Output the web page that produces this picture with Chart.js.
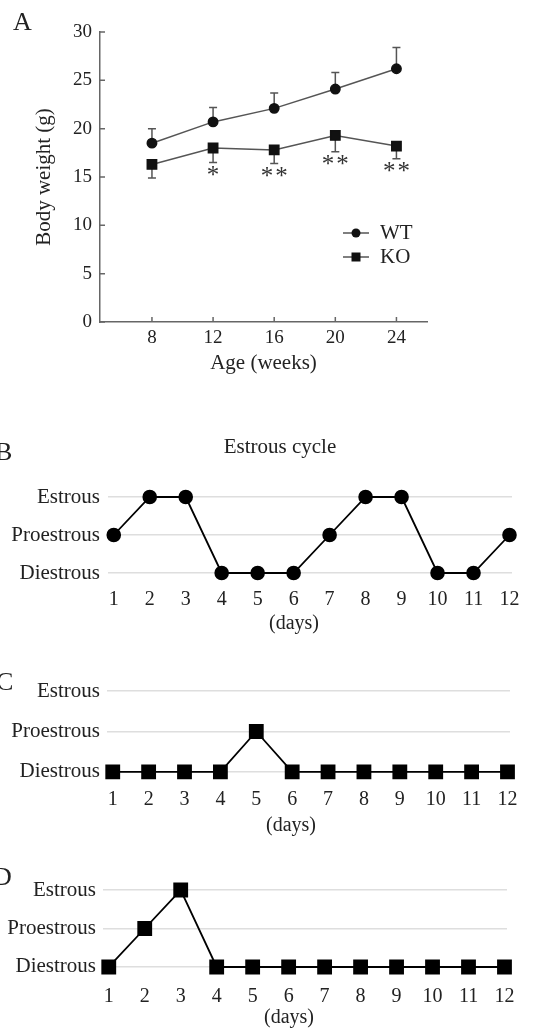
<!DOCTYPE html>
<html>
<head>
<meta charset="utf-8">
<script src="https://cdn.jsdelivr.net/npm/chart.js@4.4.0/dist/chart.umd.min.js"></script>
<style>
  body { margin: 0; background: #fff; width: 536px; height: 1028px; overflow: hidden; position: relative; }
  .panel { position: absolute; left: 0; width: 536px; }
  canvas { display: block; }
</style>
</head>
<body>
<div class="panel" style="top:0;height:390px"><canvas id="chartA" width="536" height="390"></canvas></div>
<div class="panel" style="top:420px;height:215px"><canvas id="chartB" width="536" height="215"></canvas></div>
<div class="panel" style="top:640px;height:200px"><canvas id="chartC" width="536" height="200"></canvas></div>
<div class="panel" style="top:840px;height:188px"><canvas id="chartD" width="536" height="188"></canvas></div>
<script>
// panel A: body weight
var weeks = [8, 12, 16, 20, 24];
var wtWeight = [18.5, 20.7, 22.1, 24.1, 26.2];
var wtErr = [1.5, 1.5, 1.6, 1.7, 2.2];
var koWeight = [16.3, 18.0, 17.8, 19.3, 18.2];
var koErr = [1.4, 1.5, 1.4, 1.7, 1.3];
var signif = ['', '*', '**', '**', '**'];
var weightTicks = [0, 5, 10, 15, 20, 25, 30];

// panels B-D: estrous cycle (0 = Diestrous, 1 = Proestrous, 2 = Estrous)
var stageLabels = ['Diestrous', 'Proestrous', 'Estrous'];
var days = [1, 2, 3, 4, 5, 6, 7, 8, 9, 10, 11, 12];
var cycleB = [1, 2, 2, 0, 0, 0, 1, 2, 2, 0, 0, 1];
var cycleC = [0, 0, 0, 0, 1, 0, 0, 0, 0, 0, 0, 0];
var cycleD = [0, 1, 2, 0, 0, 0, 0, 0, 0, 0, 0, 0];

var serif = "'Liberation Serif', 'Times New Roman', serif";
Chart.defaults.font.family = serif;
Chart.defaults.color = '#222';

// free text: panel letters, titles
var extraText = {
  id: 'extraText',
  afterDraw: function (chart, args, opts) {
    var ctx = chart.ctx;
    (opts.items || []).forEach(function (t) {
      ctx.save();
      ctx.font = t.size + 'px ' + serif;
      ctx.fillStyle = t.color || '#222';
      ctx.textAlign = t.align || 'center';
      ctx.textBaseline = 'middle';
      ctx.fillText(t.text, t.x, t.y);
      ctx.restore();
    });
  }
};

// one-sided error bars (WT up, KO down)
var errorBars = {
  id: 'errorBars',
  beforeDatasetsDraw: function (chart) {
    var ctx = chart.ctx, xs = chart.scales.x, ys = chart.scales.y;
    chart.data.datasets.forEach(function (ds) {
      ctx.save();
      ctx.strokeStyle = '#555';
      ctx.lineWidth = 1.5;
      ds.data.forEach(function (p, i) {
        var px = xs.getPixelForValue(p.x);
        var y0 = ys.getPixelForValue(p.y);
        var y1 = ys.getPixelForValue(p.y + ds.errDir * ds.err[i]);
        ctx.beginPath();
        ctx.moveTo(px, y0);
        ctx.lineTo(px, y1);
        ctx.moveTo(px - 4, y1);
        ctx.lineTo(px + 4, y1);
        ctx.stroke();
      });
      ctx.restore();
    });
  },
  afterDatasetsDraw: function (chart) {
    // significance stars under the KO error bars
    var ctx = chart.ctx, xs = chart.scales.x, ys = chart.scales.y;
    ctx.save();
    ctx.font = '25px ' + serif;
    ctx.fillStyle = '#333';
    ctx.textAlign = 'center';
    ctx.textBaseline = 'middle';
    weeks.forEach(function (w, i) {
      if (!signif[i]) return;
      var px = xs.getPixelForValue(w);
      var py = ys.getPixelForValue(koWeight[i] - koErr[i]) + 14;
      ctx.fillText(signif[i].split('').join('\u200a'), px, py);
    });
    ctx.restore();
  }
};

// tick marks pointing into the plot, plus the little legend
var insideTicks = {
  id: 'insideTicks',
  afterDraw: function (chart) {
    var ctx = chart.ctx, xs = chart.scales.x, ys = chart.scales.y, a = chart.chartArea;
    ctx.save();
    ctx.strokeStyle = '#666';
    ctx.lineWidth = 1.5;
    ctx.beginPath();
    ys.ticks.forEach(function (t) {
      var py = ys.getPixelForValue(t.value);
      ctx.moveTo(a.left, py);
      ctx.lineTo(a.left + 5, py);
    });
    xs.ticks.forEach(function (t) {
      var px = xs.getPixelForValue(t.value);
      ctx.moveTo(px, a.bottom);
      ctx.lineTo(px, a.bottom - 5);
    });
    ctx.stroke();

    var lx = a.right - 84, ly = a.top + 201;
    chart.data.datasets.forEach(function (ds, i) {
      var y = ly + i * 24;
      ctx.strokeStyle = '#555';
      ctx.beginPath();
      ctx.moveTo(lx, y);
      ctx.lineTo(lx + 26, y);
      ctx.stroke();
      ctx.fillStyle = '#111';
      ctx.beginPath();
      if (ds.pointStyle === 'circle') {
        ctx.arc(lx + 13, y, 4.5, 0, Math.PI * 2);
      } else {
        ctx.rect(lx + 8.5, y - 4.5, 9, 9);
      }
      ctx.fill();
      ctx.font = '21px ' + serif;
      ctx.fillStyle = '#222';
      ctx.textAlign = 'left';
      ctx.textBaseline = 'middle';
      ctx.fillText(ds.label, lx + 37, y);
    });
    ctx.restore();
  }
};

function pts(xs, ys) {
  return xs.map(function (x, i) { return { x: x, y: ys[i] }; });
}

new Chart(document.getElementById('chartA'), {
  type: 'line',
  data: {
    datasets: [{
      label: 'WT',
      data: pts(weeks, wtWeight),
      err: wtErr, errDir: 1,
      borderColor: '#555', borderWidth: 1.5,
      backgroundColor: '#111', pointBorderColor: '#111',
      pointStyle: 'circle', pointRadius: 4.7, pointHoverRadius: 4.7
    }, {
      label: 'KO',
      data: pts(weeks, koWeight),
      err: koErr, errDir: -1,
      borderColor: '#555', borderWidth: 1.5,
      backgroundColor: '#111', pointBorderColor: '#111',
      pointStyle: 'rect', pointRadius: 6.6, pointHoverRadius: 6.6
    }]
  },
  options: {
    responsive: false,
    animation: false,
    layout: { padding: { top: 32, right: 109, bottom: 0, left: 0 } },
    plugins: {
      legend: { display: false },
      tooltip: { enabled: false },
      extraText: { items: [{ text: 'A', x: 13, y: 23, size: 26, align: 'left' }] }
    },
    scales: {
      x: {
        type: 'linear', min: 4.6, max: 26,
        afterBuildTicks: function (s) { s.ticks = weeks.map(function (v) { return { value: v }; }); },
        afterFit: function (s) { s.height = 68; },
        grid: { display: false, drawTicks: false },
        border: { display: true, color: '#666', width: 1.5 },
        ticks: { font: { size: 19 }, padding: 4.6, autoSkip: false, maxRotation: 0 },
        title: { display: true, text: 'Age (weeks)', font: { size: 21 }, padding: { top: 0, bottom: 14 } }
      },
      y: {
        type: 'linear', min: 0, max: 30,
        afterBuildTicks: function (s) { s.ticks = weightTicks.map(function (v) { return { value: v }; }); },
        afterFit: function (s) { s.width = 100; },
        grid: { display: false, drawTicks: false },
        border: { display: true, color: '#666', width: 1.5 },
        ticks: { font: { size: 19 }, padding: 8 },
        title: { display: true, text: 'Body weight (g)', font: { size: 21 }, padding: { top: 32, bottom: 0 } }
      }
    }
  },
  plugins: [errorBars, insideTicks, extraText]
});

function cycleChart(id, values, style, radius, box, extras) {
  var canvas = document.getElementById(id);
  return new Chart(canvas, {
    type: 'line',
    data: {
      datasets: [{
        data: pts(days, values),
        borderColor: '#000', borderWidth: 1.8,
        backgroundColor: '#000', pointBorderColor: '#000',
        pointStyle: style, pointRadius: radius, pointHoverRadius: radius,
        clip: false
      }]
    },
    options: {
      responsive: false,
      animation: false,
      layout: { padding: { top: box.top, right: canvas.width - box.right, bottom: 0, left: 0 } },
      plugins: {
        legend: { display: false },
        tooltip: { enabled: false },
        extraText: { items: extras }
      },
      scales: {
        x: {
          type: 'linear', min: 0.84, max: 12.07,
          afterBuildTicks: function (s) { s.ticks = days.map(function (v) { return { value: v }; }); },
          afterFit: function (s) { s.height = canvas.height - box.bottom; },
          grid: { display: false, drawTicks: false },
          border: { display: false },
          ticks: { font: { size: 20 }, padding: box.xPad, autoSkip: false, maxRotation: 0 }
        },
        y: {
          type: 'linear', min: -0.25, max: 2.25,
          afterBuildTicks: function (s) { s.ticks = [0, 1, 2].map(function (v) { return { value: v }; }); },
          afterFit: function (s) { s.width = box.left; },
          grid: { color: '#dedede', lineWidth: 1.5, drawTicks: false },
          border: { display: false },
          ticks: { font: { size: 21 }, padding: box.yPad, callback: function (v) { return stageLabels[v]; } }
        }
      }
    },
    plugins: [extraText]
  });
}

cycleChart('chartB', cycleB, 'circle', 6.4,
  { top: 67.5, bottom: 162.5, left: 108, right: 512, xPad: 5.5, yPad: 8 },
  [{ text: 'B', x: -5, y: 33, size: 26, align: 'left' },
   { text: 'Estrous cycle', x: 280, y: 27, size: 21 },
   { text: '(days)', x: 294, y: 204, size: 20 }]);

cycleChart('chartC', cycleC, 'rect', 9.2,
  { top: 41, bottom: 142, left: 107, right: 510, xPad: 6, yPad: 7 },
  [{ text: 'C', x: -4, y: 43, size: 26, align: 'left' },
   { text: '(days)', x: 291, y: 186, size: 20 }]);

cycleChart('chartD', cycleD, 'rect', 9.2,
  { top: 40.4, bottom: 136.6, left: 103, right: 507, xPad: 8.4, yPad: 7 },
  [{ text: 'D', x: -7, y: 38, size: 26, align: 'left' },
   { text: '(days)', x: 289, y: 178, size: 20 }]);
</script>
</body>
</html>
